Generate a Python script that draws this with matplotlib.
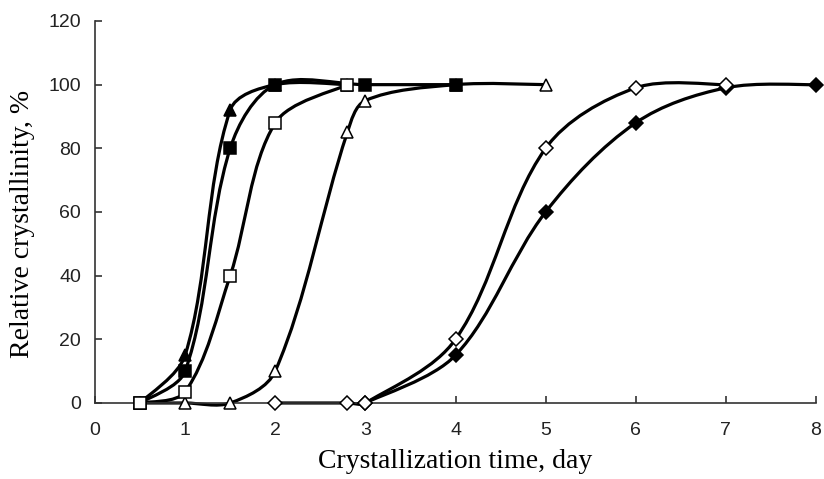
import numpy as np
import matplotlib.pyplot as plt
from matplotlib.path import Path
from matplotlib.patches import PathPatch

# crystallization time (day) and relative crystallinity (%)
x_tri_filled = [0.5, 1, 1.5, 2, 2.8]
y_tri_filled = [0, 15, 92, 100, 100]

x_sq_filled = [0.5, 1, 1.5, 2, 3, 4]
y_sq_filled = [0, 10, 80, 100, 100, 100]

x_sq_open = [0.5, 1, 1.5, 2, 2.8]
y_sq_open = [0, 3.5, 40, 88, 100]

x_tri_open = [0.5, 1, 1.5, 2, 2.8, 3, 4, 5]
y_tri_open = [0, 0, 0, 10, 85, 95, 100, 100]

x_dia_filled = [3, 4, 5, 6, 7, 8]
y_dia_filled = [0, 15, 60, 88, 99, 100]

x_dia_open = [2, 2.8, 3, 4, 5, 6, 7]
y_dia_open = [0, 0, 0, 20, 80, 99, 100]


def smooth_path(ax, xs, ys):
    # smoothed line like a spreadsheet chart: Bezier through points,
    # tangents weighted by segment length in screen space
    to_px = ax.transData
    p = to_px.transform(np.column_stack([xs, ys]).astype(float))
    n = len(p)
    d = np.hypot(*np.diff(p, axis=0).T)
    verts = [p[0]]
    codes = [Path.MOVETO]
    for i in range(n - 1):
        p1, p2 = p[i], p[i + 1]
        if i > 0:
            t1 = (p2 - p[i - 1]) * d[i] / (d[i - 1] + d[i]) / 3
        else:
            t1 = (p2 - p1) / 3 * 0.5
        if i + 2 < n:
            t2 = (p[i + 2] - p1) * d[i] / (d[i] + d[i + 1]) / 3
        else:
            t2 = (p2 - p1) / 3 * 0.5
        verts += [p1 + t1, p2 - t2, p2]
        codes += [Path.CURVE4] * 3
    verts = to_px.inverted().transform(np.array(verts))
    return Path(verts, codes)


fig = plt.figure(figsize=(8.24, 4.79), dpi=100)
ax = fig.add_axes([0.1153, 0.1587, 0.8750, 0.7975])
ax.set_xlim(0, 8)
ax.set_ylim(0, 120)

series = [
    (x_dia_filled, y_dia_filled, 'D', 'black', 7.5),
    (x_dia_open, y_dia_open, 'D', 'white', 7.5),
    (x_tri_open, y_tri_open, '^', 'white', 9),
    (x_tri_filled, y_tri_filled, '^', 'black', 9),
    (x_sq_filled, y_sq_filled, 's', 'black', 8.5),
    (x_sq_open, y_sq_open, 's', 'white', 8.5),
]

for xs, ys, m, fc, ms in series:
    ax.add_patch(PathPatch(smooth_path(ax, xs, ys), facecolor='none',
                           edgecolor='black', lw=2.3, clip_on=False, zorder=2))
    ax.plot(xs, ys, linestyle='none', marker=m, markersize=ms,
            markerfacecolor=fc, markeredgecolor='black', markeredgewidth=1.1,
            clip_on=False, zorder=3)

ax.set_xticks(range(0, 9))
ax.set_yticks(range(0, 121, 20))

for s in ['top', 'right']:
    ax.spines[s].set_visible(False)
for s in ['left', 'bottom']:
    ax.spines[s].set_color('#333333')
    ax.spines[s].set_linewidth(1.2)

ax.tick_params(direction='in', length=5, width=1.2, color='#333333',
               labelsize=14, labelcolor='#222222')
ax.tick_params(axis='x', pad=14)
ax.tick_params(axis='y', pad=10)
for lab in ax.get_xticklabels() + ax.get_yticklabels():
    lab.set_family('Liberation Sans')

ax.set_xlabel('Crystallization time, day', family='Liberation Serif',
              fontsize=20, labelpad=7)
ax.set_ylabel('Relative crystallinity, %', family='Liberation Serif',
              fontsize=20, labelpad=10)
ax.yaxis.label.set_y(0.47)

plt.savefig('out.png', dpi=100)
